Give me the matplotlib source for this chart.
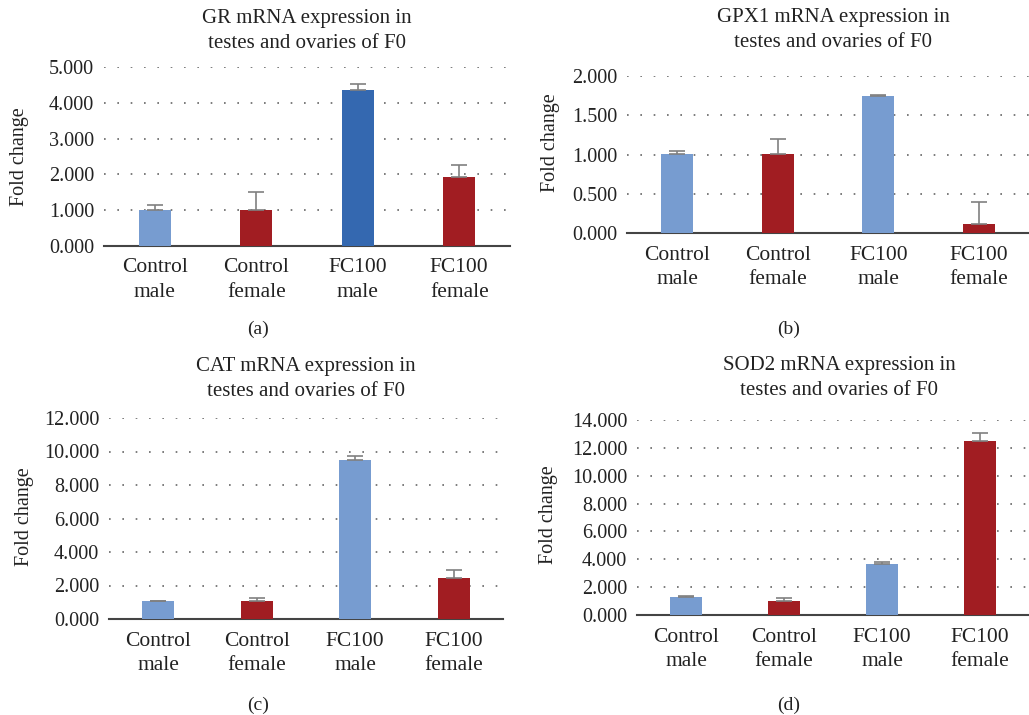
import matplotlib
matplotlib.use("Agg")
import matplotlib.pyplot as plt

plt.rcParams["font.family"] = ["Liberation Serif", "DejaVu Serif"]

categories = ["Control\nmale", "Control\nfemale", "FC100\nmale", "FC100\nfemale"]

gr_values = [1.00, 1.00, 4.35, 1.93]
gr_errors = [0.15, 0.50, 0.18, 0.34]
gpx1_values = [1.01, 1.01, 1.75, 0.11]
gpx1_errors = [0.03, 0.19, 0.01, 0.29]
cat_values = [1.05, 1.05, 9.50, 2.43]
cat_errors = [0.04, 0.19, 0.25, 0.49]
sod2_values = [1.28, 1.00, 3.65, 12.50]
sod2_errors = [0.05, 0.22, 0.17, 0.60]

LIGHT_BLUE = "#779cd0"
DARK_BLUE = "#3468b0"
RED = "#a11d22"
TEXT = "#222222"

W, H = 1029, 715


def px_axes(fig, left, top, right, bottom):
    return fig.add_axes([left / W, 1 - bottom / H, (right - left) / W, (bottom - top) / H])


def draw_panel(fig, box, title, title_xy, values, errors, colors, ymax, step,
               label, label_xy, ylabel_xy):
    ax = px_axes(fig, *box)
    x = range(len(values))
    ax.bar(x, values, width=0.32, color=colors, zorder=3)
    ax.errorbar(x, values, yerr=[[0] * len(errors), errors], fmt="none",
                ecolor="#808080", elinewidth=1.2, capsize=6, capthick=1.2, zorder=4)
    ax.set_xlim(-0.5, 3.5)
    ax.set_ylim(0, ymax)
    ticks = [i * step for i in range(int(round(ymax / step)) + 1)]
    ax.set_yticks(ticks)
    ax.set_yticklabels([f"{t:.3f}" for t in ticks])
    ax.set_xticks(list(x))
    ax.set_xticklabels(categories, linespacing=1.4)
    ax.tick_params(axis="y", length=0, labelsize=14.5, colors=TEXT, pad=7)
    ax.tick_params(axis="x", length=0, labelsize=15.5, colors=TEXT, pad=9)
    ax.yaxis.grid(True, linestyle=(0, (1, 7)), color="#666666", linewidth=1.2, zorder=0)
    for s in ["top", "right", "left"]:
        ax.spines[s].set_visible(False)
    ax.spines["bottom"].set_color("#444444")
    ax.spines["bottom"].set_linewidth(1.5)
    fig.text(title_xy[0] / W, 1 - title_xy[1] / H, title, ha="center", va="center",
             fontsize=15, color=TEXT, linespacing=1.45)
    fig.text(ylabel_xy[0] / W, 1 - ylabel_xy[1] / H, "Fold change", rotation=90,
             ha="center", va="center", fontsize=14.5, color=TEXT)
    fig.text(label_xy[0] / W, 1 - label_xy[1] / H, label, ha="center", va="center",
             fontsize=14, color=TEXT)


def main():
    fig = plt.figure(figsize=(W / 100, H / 100), dpi=100)

    draw_panel(fig, (104, 67, 510, 246), "GR mRNA expression in\ntestes and ovaries of F0",
               (307, 31), gr_values, gr_errors, [LIGHT_BLUE, RED, DARK_BLUE, RED],
               5.0, 1.0, "(a)", (258, 329), (20, 157))
    draw_panel(fig, (627, 76, 1029, 233), "GPX1 mRNA expression in\ntestes and ovaries of F0",
               (833, 30), gpx1_values, gpx1_errors, [LIGHT_BLUE, RED, LIGHT_BLUE, RED],
               2.0, 0.5, "(b)", (789, 329), (550, 143))
    draw_panel(fig, (109, 418, 503, 619), "CAT mRNA expression in\ntestes and ovaries of F0",
               (306, 379), cat_values, cat_errors, [LIGHT_BLUE, RED, LIGHT_BLUE, RED],
               12.0, 2.0, "(c)", (258, 705), (25, 517))
    draw_panel(fig, (637, 420, 1029, 615), "SOD2 mRNA expression in\ntestes and ovaries of F0",
               (839, 378), sod2_values, sod2_errors, [LIGHT_BLUE, RED, LIGHT_BLUE, RED],
               14.0, 2.0, "(d)", (789, 705), (548, 515))

    fig.savefig("out.png", dpi=100)
    plt.close(fig)


if __name__ == "__main__":
    main()
